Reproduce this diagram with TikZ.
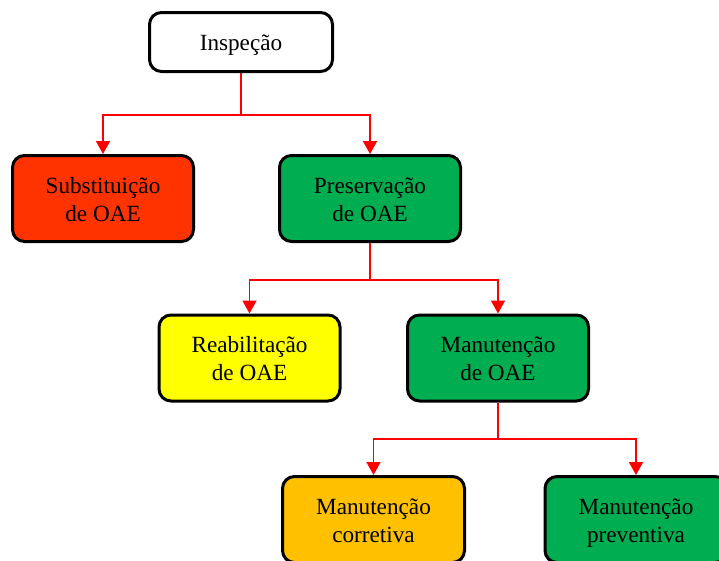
\documentclass[tikz,border=0pt]{standalone}
\usepackage{fontspec}
\setmainfont{Liberation Serif}
\usetikzlibrary{arrows.meta}
\definecolor{cred}{HTML}{FF3300}
\definecolor{cgreen}{HTML}{00AD50}
\definecolor{cyellow}{HTML}{FFFF00}
\definecolor{corange}{HTML}{FFC000}
\newcommand{\twoline}[2]{\raisebox{-3pt}[\height][\depth]{\begin{tabular}{@{}c@{}}#1\\#2\end{tabular}}}
\tikzset{
  box/.style={draw=black, line width=3pt, rounded corners=12pt, rectangle,
    align=center, minimum width=181pt, minimum height=86pt, inner sep=2pt,
    font=\fontsize{23.2}{28}\selectfont},
  conn/.style={draw=red, line width=1.6pt},
  arr/.style={conn, -{Triangle[width=14pt,length=13pt]}}
}
\begin{document}
\begin{tikzpicture}[x=1pt,y=1pt]
\useasboundingbox (0,0) rectangle (719,-560);
\node[box, fill=white, minimum height=59pt, minimum width=183pt] (insp) at (241,-42) {\raisebox{-3.5pt}[\height][\depth]{Inspeção}};
\node[box, fill=cred] (sub) at (103,-198.5) {\twoline{Substituição}{de OAE}};
\node[box, fill=cgreen] (pres) at (370,-198.5) {\twoline{Preservação}{de OAE}};
\node[box, fill=cyellow] (reab) at (249.5,-358) {\twoline{Reabilitação}{de OAE}};
\node[box, fill=cgreen] (man) at (498,-358) {\twoline{Manutenção}{de OAE}};
\node[box, fill=corange, minimum width=182pt] (corr) at (373.5,-519.5) {\twoline{Manutenção}{corretiva}};
\node[box, fill=cgreen, minimum width=182pt] (prev) at (636,-519.5) {\twoline{Manutenção}{preventiva}};
\coordinate (j1) at (241,-115);
\coordinate (j2) at (370,-280);
\coordinate (j3) at (498,-439);
\draw[conn] (insp.south) -- (j1);
\draw[arr] (j1) -| (sub.north);
\draw[arr] (j1) -| (pres.north);
\draw[conn] (pres.south) -- (j2);
\draw[arr] (j2) -| (reab.north);
\draw[arr] (j2) -| (man.north);
\draw[conn] (man.south) -- (j3);
\draw[arr] (j3) -| (corr.north);
\draw[arr] (j3) -| (prev.north);
\end{tikzpicture}
\end{document}
